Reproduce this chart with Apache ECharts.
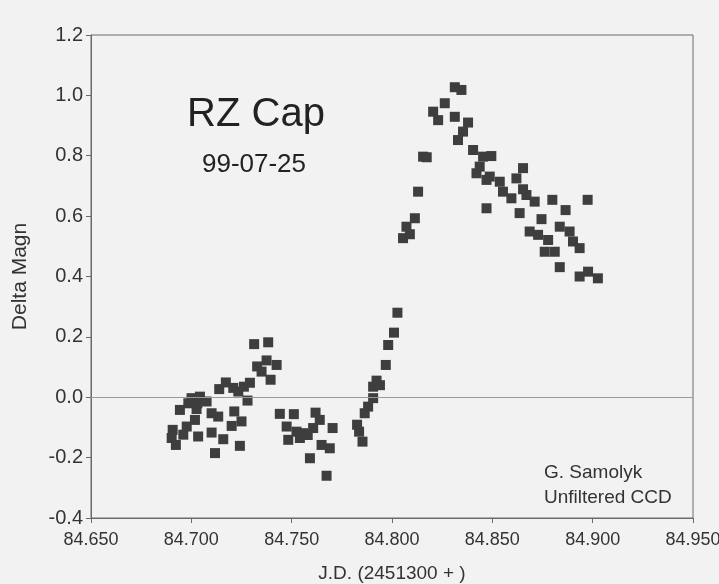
<!DOCTYPE html>
<html>
<head>
<meta charset="utf-8">
<script src="https://cdn.jsdelivr.net/npm/echarts@6/dist/echarts.min.js"></script>
<style>
  html, body { margin: 0; padding: 0; background: #f2f2f2; }
  #chart { width: 719px; height: 584px; }
</style>
</head>
<body>
<div id="chart"></div>
<script>
// J.D. (2451300 + ) and delta magnitude
const jd = [
  84.6902, 84.6907, 84.6923, 84.6943, 84.6960, 84.6977, 84.6985, 84.7001, 84.7018, 84.7026,
  84.7030, 84.7034, 84.7043, 84.7076, 84.7101, 84.7101, 84.7118, 84.7134, 84.7139, 84.7159,
  84.7172, 84.7201, 84.7209, 84.7214, 84.7234, 84.7242, 84.7250, 84.7262, 84.7280, 84.7292,
  84.7313, 84.7328, 84.7350, 84.7375, 84.7383, 84.7395, 84.7425,
  84.7441, 84.7475, 84.7483, 84.7511, 84.7524, 84.7541, 84.7557, 84.7580, 84.7591, 84.7607,
  84.7619, 84.7640, 84.7649, 84.7674, 84.7690, 84.7704,
  84.7826, 84.7836, 84.7853, 84.7864, 84.7881, 84.7906, 84.7906, 84.7923, 84.7940, 84.7969,
  84.7981, 84.8010, 84.8027,
  84.8055, 84.8072, 84.8089, 84.8114, 84.8130, 84.8155, 84.8173, 84.8205, 84.8230, 84.8263,
  84.8313, 84.8346, 84.8313, 84.8329, 84.8354, 84.8379, 84.8404, 84.8421, 84.8437, 84.8454,
  84.8471, 84.8471, 84.8487, 84.8495, 84.8537, 84.8553, 84.8595, 84.8620, 84.8636, 84.8653,
  84.8653, 84.8670, 84.8686, 84.8711, 84.8728, 84.8745, 84.8761, 84.8778, 84.8799, 84.8811,
  84.8836, 84.8836, 84.8865, 84.8885, 84.8902, 84.8935, 84.8935, 84.8975, 84.8977, 84.9026
];
const deltaMag = [
  -0.135, -0.108, -0.158, -0.042, -0.124, -0.097, -0.020, -0.003, -0.075, -0.039,
  -0.020, -0.130, 0.002, -0.014, -0.053, -0.117, -0.185, -0.064, 0.027, -0.139,
  0.049, -0.095, 0.031, -0.047, 0.019, -0.161, -0.080, 0.035, -0.011, 0.048,
  0.176, 0.102, 0.085, 0.122, 0.182, 0.058, 0.107,
  -0.055, -0.097, -0.141, -0.056, -0.114, -0.135, -0.119, -0.125, -0.202, -0.102,
  -0.051, -0.075, -0.158, -0.260, -0.169, -0.102,
  -0.091, -0.114, -0.147, -0.053, -0.031, -0.003, 0.035, 0.055, 0.040, 0.107,
  0.173, 0.214, 0.280,
  0.527, 0.565, 0.540, 0.593, 0.681, 0.797, 0.795, 0.946, 0.918, 0.974,
  1.027, 1.018, 0.929, 0.852, 0.880, 0.910, 0.819, 0.742, 0.764, 0.797,
  0.720, 0.626, 0.731, 0.799, 0.714, 0.681, 0.659, 0.725, 0.610, 0.759,
  0.689, 0.670, 0.549, 0.648, 0.538, 0.590, 0.482, 0.521, 0.654, 0.482,
  0.565, 0.431, 0.620, 0.549, 0.516, 0.494, 0.400, 0.654, 0.416, 0.394
];

const xMin = 84.65, xMax = 84.95, xStep = 0.05;
const yMin = -0.4, yMax = 1.2, yStep = 0.2;

let points = jd.map((x, i) => [x, deltaMag[i]]);
let font = "Liberation Sans";
let axisColor = "#6a6a6a";

let myChart = echarts.init(document.getElementById("chart"));
myChart.setOption({
  backgroundColor: "#f2f2f2",
  animation: false,
  textStyle: { fontFamily: font },
  grid: {
    left: 91, right: 26, top: 35, bottom: 66,
    outerBoundsMode: "none",
    show: true, borderColor: axisColor, borderWidth: 1
  },
  title: [
    { text: "RZ Cap", left: 251, top: 90, textAlign: "center",
      textStyle: { fontFamily: font, fontSize: 40, fontWeight: "normal", color: "#222" } },
    { text: "99-07-25", left: 249, top: 147, textAlign: "center",
      textStyle: { fontFamily: font, fontSize: 26, fontWeight: "normal", color: "#222" } },
    { text: "G. Samolyk\nUnfiltered CCD", left: 539, top: 455,
      textStyle: { fontFamily: font, fontSize: 19, fontWeight: "normal", color: "#333", lineHeight: 25 } }
  ],
  xAxis: {
    type: "value",
    min: xMin, max: xMax, interval: xStep,
    name: "J.D. (2451300 + )",
    nameLocation: "middle",
    nameGap: 46,
    nameTextStyle: { fontFamily: font, fontSize: 19, color: "#333" },
    axisLine: { onZero: false, lineStyle: { color: axisColor } },
    axisTick: { length: 5, lineStyle: { color: axisColor } },
    splitLine: { show: false },
    axisLabel: { fontSize: 18, color: "#333", margin: 13, formatter: v => v.toFixed(3) }
  },
  yAxis: {
    type: "value",
    min: yMin, max: yMax, interval: yStep,
    name: "Delta Magn",
    nameLocation: "middle",
    nameGap: 60,
    nameTextStyle: { fontFamily: font, fontSize: 21, color: "#333" },
    axisLine: { show: true, onZero: false, lineStyle: { color: axisColor } },
    axisTick: { show: true, length: 5, lineStyle: { color: axisColor } },
    splitLine: { show: false },
    axisLabel: { fontSize: 20, color: "#333", margin: 8, formatter: v => v.toFixed(1) }
  },
  series: [
    {
      type: "scatter",
      symbol: "rect",
      symbolSize: 10,
      itemStyle: { color: "#3e3e3e", opacity: 1 },
      data: points,
      markLine: {
        silent: true,
        symbol: "none",
        label: { show: false },
        lineStyle: { color: "#999", type: "solid", width: 1 },
        data: [{ yAxis: 0 }]
      }
    }
  ]
});
window.onresize = myChart.resize;
</script>
</body>
</html>
